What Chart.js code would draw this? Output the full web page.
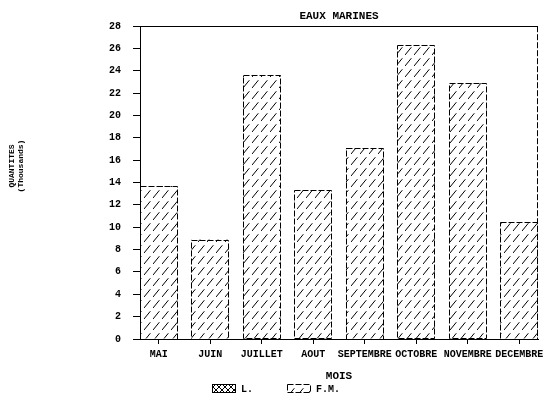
<!DOCTYPE html>
<html lang="fr">
  <head>
    <meta charset="UTF-8" />
    <title>Eaux marines</title>
    <style>
      html,
      body {
        margin: 0;
        padding: 0;
        background: #fff;
      }

      .container {
        position: relative;
        width: 550px;
        height: 401px;
      }
    </style>
  </head>
  <body>
    <div class="container"><canvas id="chart" width="550" height="401"></canvas></div>

    <script src="https://cdn.jsdelivr.net/npm/chart.js@4.4.0/dist/chart.umd.min.js"></script>
    <script>
      const TITLE = "EAUX MARINES";
      const X_TITLE = "MOIS";
      const Y_TITLE = ["QUANTITES", "(Thousands)"];
      const MONTHS = ["MAI", "JUIN", "JUILLET", "AOUT", "SEPTEMBRE", "OCTOBRE", "NOVEMBRE", "DECEMBRE"];
      const L_VALUES = [0, 0, 0, 0, 0, 0, 0, 0];
      const FM_VALUES = [13.7, 8.9, 23.6, 13.3, 17.1, 26.3, 22.9, 10.5];
      const Y_MIN = 0;
      const Y_MAX = 28;
      const Y_STEP = 2;

      const FONT = "'Liberation Mono', 'DejaVu Sans Mono', monospace";
      Chart.defaults.font.family = FONT;
      Chart.defaults.font.size = 10;
      Chart.defaults.font.weight = "bold";
      Chart.defaults.color = "#000";

      // bar width as a share of one month slot; bars touch both frame edges
      const BAR_SHARE = 0.73;

      function hatch(cross) {
        const c = document.createElement("canvas");
        const g = c.getContext("2d");
        if (cross) {
          c.width = 6;
          c.height = 6;
          g.strokeStyle = "#000";
          g.lineWidth = 1;
          g.beginPath();
          g.moveTo(0, 6);
          g.lineTo(6, 0);
          g.moveTo(0, 0);
          g.lineTo(6, 6);
          g.stroke();
        } else {
          c.width = 9;
          c.height = 11;
          g.strokeStyle = "#000";
          g.lineWidth = 1;
          g.setLineDash([10, 4.2]);
          g.beginPath();
          g.moveTo(0, 11);
          g.lineTo(9, 0);
          g.stroke();
        }
        return g.createPattern(c, "repeat");
      }

      const toPoints = (values) => values.map((v, i) => ({ x: i, y: v }));

      const framePlugin = {
        id: "frame",
        afterDatasetsDraw(chart) {
          const { ctx, chartArea: a } = chart;
          ctx.save();
          ctx.strokeStyle = "#000";
          ctx.lineWidth = 1;

          // dashed outline of every bar
          ctx.setLineDash([6, 2]);
          chart.data.datasets.forEach((ds, i) => {
            chart.getDatasetMeta(i).data.forEach((bar) => {
              const { x, y, base, width } = bar.getProps(["x", "y", "base", "width"], true);
              if (Math.abs(base - y) < 0.5) return;
              ctx.strokeRect(Math.round(x - width / 2) + 0.5, Math.round(y) + 0.5, Math.round(width) - 1, Math.round(base - y));
            });
          });

          // right edge of frame
          ctx.beginPath();
          ctx.moveTo(a.right - 0.5, a.top);
          ctx.lineTo(a.right - 0.5, a.bottom);
          ctx.stroke();

          // top edge of frame
          ctx.setLineDash([]);
          ctx.beginPath();
          ctx.moveTo(a.left - 7, Math.round(a.top) + 0.5);
          ctx.lineTo(a.right, Math.round(a.top) + 0.5);
          ctx.stroke();
          ctx.restore();
        },
        afterDraw(chart) {
          const { ctx } = chart;
          ctx.save();
          ctx.fillStyle = "#000";

          // y axis title, two rotated lines
          ctx.font = "bold 8px " + FONT;
          ctx.textAlign = "center";
          ctx.textBaseline = "middle";
          ctx.translate(12, 166);
          ctx.rotate(-Math.PI / 2);
          Y_TITLE.forEach((t, i) => ctx.fillText(t, 0, i * 9));
          ctx.restore();

          // legend
          ctx.save();
          ctx.font = "bold 10px " + FONT;
          ctx.textAlign = "left";
          ctx.textBaseline = "middle";
          ctx.strokeStyle = "#000";
          ctx.lineWidth = 1;
          const cx = chart.width / 2;
          chart.data.datasets.forEach((ds, i) => {
            const x = Math.round(cx - 63 + i * 75);
            ctx.fillStyle = ds.backgroundColor;
            ctx.fillRect(x, 384, 24, 9);
            ctx.setLineDash(i === 0 ? [] : [6, 2]);
            ctx.strokeRect(x + 0.5, 384.5, 23, 8);
            ctx.fillStyle = "#000";
            ctx.fillText(ds.label, x + 29, 389);
          });
          ctx.restore();
        },
      };

      const margin = BAR_SHARE / 2;

      new Chart(document.getElementById("chart"), {
        type: "bar",
        data: {
          datasets: [
            {
              label: "L.",
              data: toPoints(L_VALUES),
              backgroundColor: hatch(true),
              borderWidth: 0,
              barPercentage: 1,
              categoryPercentage: BAR_SHARE,
            },
            {
              label: "F.M.",
              data: toPoints(FM_VALUES),
              backgroundColor: hatch(false),
              borderWidth: 0,
              barPercentage: 1,
              categoryPercentage: BAR_SHARE,
            },
          ],
        },
        options: {
          responsive: false,
          animation: false,
          layout: { padding: { left: 0, right: 12, top: 0, bottom: 18 } },
          plugins: {
            legend: { display: false },
            tooltip: { enabled: false },
            title: {
              display: true,
              text: TITLE,
              fullSize: false,
              padding: { top: 10, bottom: 3 },
              font: { size: 11, weight: "bold" },
              color: "#000",
            },
          },
          scales: {
            x: {
              type: "linear",
              stacked: true,
              offset: false,
              bounds: "data",
              min: -margin,
              max: MONTHS.length - 1 + margin,
              afterBuildTicks: (s) => {
                s.ticks = MONTHS.map((m, i) => ({ value: i }));
              },
              afterFit: (s) => {
                s.height = 44;
              },
              ticks: {
                autoSkip: false,
                maxRotation: 0,
                padding: 4,
                callback: (v) => MONTHS[v],
              },
              grid: { offset: false, drawOnChartArea: false, tickLength: 5, color: "#000" },
              border: { color: "#000", width: 1 },
              title: {
                display: true,
                text: X_TITLE,
                padding: { top: 0, bottom: 0 },
                font: { size: 11, weight: "bold" },
              },
            },
            y: {
              stacked: true,
              min: Y_MIN,
              max: Y_MAX,
              afterFit: (s) => {
                s.width = 140;
              },
              ticks: { stepSize: Y_STEP, padding: 12 },
              grid: { drawOnChartArea: false, tickLength: 7, color: "#000" },
              border: { color: "#000", width: 1, dash: [6, 2] },
            },
          },
        },
        plugins: [framePlugin],
      });
    </script>
  </body>
</html>
